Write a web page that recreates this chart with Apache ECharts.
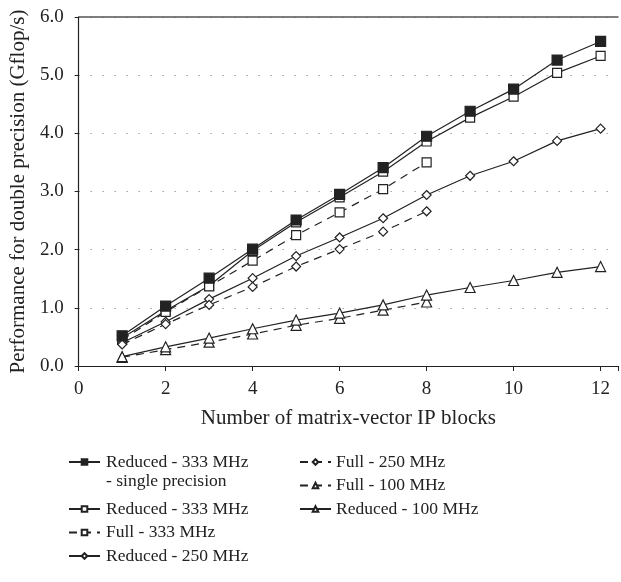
<!DOCTYPE html>
<html><head><meta charset="utf-8">
<script src="https://cdn.jsdelivr.net/npm/echarts@6/dist/echarts.min.js"></script>
<style>html,body{margin:0;padding:0;background:#fff}#c{width:621px;height:582px}</style>
</head><body><div id="c"></div>
<script>
const blocks = [1,2,3,4,5,6,7,8,9,10,11,12];
const reduced333Single = [0.52,1.03,1.51,2.01,2.51,2.95,3.41,3.95,4.38,4.76,5.26,5.58];
const reduced333 = [0.48,0.95,1.38,1.98,2.47,2.90,3.34,3.86,4.27,4.63,5.04,5.33];
const full333 = [0.45,0.93,1.37,1.81,2.25,2.64,3.04,3.50];
const reduced250 = [0.40,0.76,1.15,1.51,1.89,2.21,2.54,2.94,3.27,3.52,3.87,4.08];
const full250 = [0.37,0.72,1.05,1.36,1.71,2.01,2.31,2.66];
const full100 = [0.15,0.28,0.41,0.55,0.70,0.82,0.96,1.10];
const reduced100 = [0.16,0.33,0.48,0.64,0.79,0.91,1.05,1.22,1.35,1.47,1.61,1.71];
const xTicks = [0,2,4,6,8,10,12];
const yTicks = [0,1,2,3,4,5,6];
const names = ['Reduced - 333 MHz - single precision','Reduced - 333 MHz','Full - 333 MHz','Reduced - 250 MHz','Full - 250 MHz','Full - 100 MHz','Reduced - 100 MHz'];

const INK = '#222';
const FONT = 'Liberation Serif';
function pts(arr){ return arr.map((v,i)=>[blocks[i], v]); }
function mk(name, data, symbol, size, filled, dashed){
  return {
    name, type:'line', data: pts(data), symbol, symbolSize:size,
    lineStyle:{color:INK, width:1.2, type: dashed ? [8,6] : 'solid'},
    itemStyle:{color: filled ? INK : '#fff', borderColor: INK, borderWidth:1.2},
    z: filled ? 5 : 4, animation:false
  };
}
const legText = {fontFamily:FONT, fontSize:17.5, color:INK, lineHeight:22, padding:[0,0,0,1]};
const chart = echarts.init(document.getElementById('c'), null, {renderer:'canvas'});
chart.setOption({
  animation:false,
  textStyle:{fontFamily:FONT},
  grid:{left:77, top:17, right:0, bottom:216},
  xAxis:[{
    type:'value', min:0, max:12.4, interval:2,
    name:'Number of matrix-vector IP blocks', nameLocation:'middle', nameGap:42,
    nameTextStyle:{fontFamily:FONT, fontSize:21, color:INK},
    axisLine:{lineStyle:{color:INK, width:1.2}},
    axisTick:{lineStyle:{color:INK}, length:5},
    axisLabel:{fontFamily:FONT, fontSize:19, color:INK, margin:14,
      formatter: v => xTicks.includes(v) ? String(v) : ''},
    splitLine:{show:false}
  },{
    type:'value', position:'top', min:0, max:12.4,
    axisLine:{show:true, lineStyle:{color:'#555', width:1.5}},
    axisTick:{show:false}, axisLabel:{show:false}, splitLine:{show:false}
  }],
  yAxis:{
    type:'value', min:0, max:6, interval:1,
    name:'Performance for double precision (Gflop/s)', nameLocation:'middle', nameGap:40,
    nameTextStyle:{fontFamily:FONT, fontSize:21, color:INK},
    axisLine:{show:true, lineStyle:{color:INK, width:1.2}},
    axisTick:{show:true, lineStyle:{color:INK}, length:4},
    axisLabel:{fontFamily:FONT, fontSize:19, color:INK, margin:15,
      formatter: v => yTicks.includes(v) ? v.toFixed(1) : ''},
    splitLine:{show:true, lineStyle:{color:'#777', type:[1,11], width:1.2}}
  },
  legend:[{
    orient:'vertical', left:63, top:446, itemWidth:31, itemHeight:7, itemGap:2,
    textStyle:legText, data:[names[0]],
    formatter: n => 'Reduced - 333 MHz'
  },{
    orient:'vertical', left:63, top:493, itemWidth:31, itemHeight:7, itemGap:1.5,
    textStyle:legText, data:[names[1], names[2], names[3]]
  },{
    orient:'vertical', left:294, top:446, itemWidth:31, itemHeight:7, itemGap:1.5,
    textStyle:Object.assign({}, legText, {padding:[0,0,0,0]}), data:[names[4], names[5], names[6]]
  }],
  graphic:[{
    type:'text', left:106, top:472,
    style:{text:'- single precision', font:'17.5px "Liberation Serif"', fill:INK}
  }],
  series:[
    mk(names[0], reduced333Single, 'rect', 10, true, false),
    mk(names[1], reduced333, 'rect', 9, false, false),
    mk(names[2], full333, 'rect', 9, false, true),
    mk(names[3], reduced250, 'diamond', 9, false, false),
    mk(names[4], full250, 'diamond', 9, false, true),
    mk(names[5], full100, 'triangle', 10, false, true),
    mk(names[6], reduced100, 'triangle', 10, false, false)
  ]
});
</script></body></html>
